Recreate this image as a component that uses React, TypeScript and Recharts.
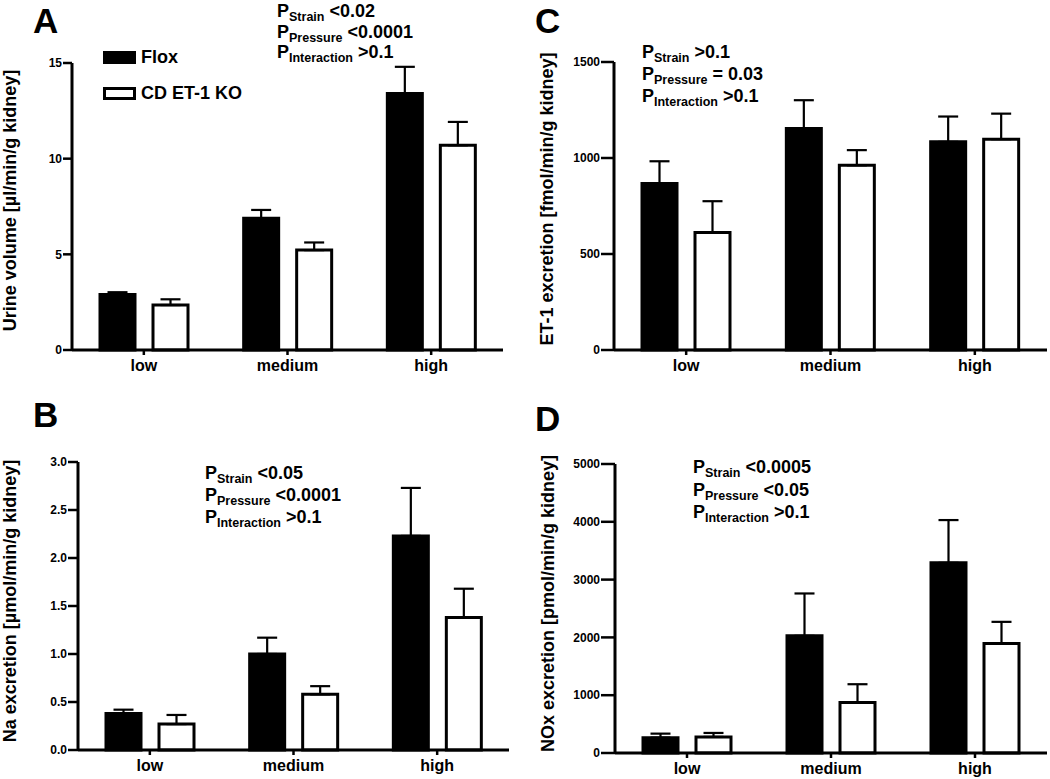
import React from 'react';
import { BarChart, Bar, XAxis, YAxis, ErrorBar, Legend } from 'recharts';

const FONT = "'Liberation Sans', Arial, sans-serif";

const categories = ['low', 'medium', 'high'];
const seriesNames = ['Flox', 'CD ET-1 KO'];
const seriesFill = ['#000000', '#ffffff'];
const statNames = ['Strain', 'Pressure', 'Interaction'];

// A: urine volume
const urineFlox = [2.9, 6.88, 13.4];
const urineFloxErr = [0.12, 0.44, 1.4];
const urineKo = [2.35, 5.22, 10.7];
const urineKoErr = [0.3, 0.4, 1.22];
const urineTicks = [0, 5, 10, 15];
const urineStats = ['<0.02', '<0.0001', '>0.1'];

// B: Na excretion
const naFlox = [0.38, 1.0, 2.23];
const naFloxErr = [0.04, 0.17, 0.5];
const naKo = [0.27, 0.58, 1.38];
const naKoErr = [0.095, 0.085, 0.3];
const naTicks = [0, 0.5, 1.0, 1.5, 2.0, 2.5, 3.0];
const naStats = ['<0.05', '<0.0001', '>0.1'];

// C: ET-1 excretion
const et1Flox = [867, 1153, 1084];
const et1FloxErr = [116, 148, 132];
const et1Ko = [612, 962, 1098];
const et1KoErr = [163, 79, 133];
const et1Ticks = [0, 500, 1000, 1500];
const et1Stats = ['>0.1', '= 0.03', '>0.1'];

// D: NOx excretion
const noxFlox = [266, 2027, 3290];
const noxFloxErr = [69, 733, 740];
const noxKo = [278, 873, 1895];
const noxKoErr = [69, 317, 374];
const noxTicks = [0, 1000, 2000, 3000, 4000, 5000];
const noxStats = ['<0.0005', '<0.05', '>0.1'];

// upper-only error bars: [below, above]
const buildRows = (flox: number[], floxErr: number[], ko: number[], koErr: number[]) =>
  categories.map((cat, i) => ({
    cat,
    flox: flox[i],
    floxErr: [0, floxErr[i]],
    ko: ko[i],
    koErr: [0, koErr[i]],
  }));

const renderLegend = (props: any) => {
  const payload = [...(props.payload || [])].sort(
    (a: any, b: any) => seriesNames.indexOf(a.value) - seriesNames.indexOf(b.value)
  );
  return (
    <div style={{ fontFamily: FONT }}>
      {payload.map((entry: any) => (
        <div key={entry.value} style={{ display: 'flex', alignItems: 'center', height: 36, lineHeight: 1 }}>
          <span
            style={{
              display: 'inline-block',
              width: 33,
              height: 13,
              boxSizing: 'border-box',
              border: '3px solid #000',
              background: seriesFill[seriesNames.indexOf(entry.value)],
              marginRight: 5,
            }}
          />
          <span style={{ fontSize: 18, fontWeight: 'bold', color: '#000' }}>{entry.value}</span>
        </div>
      ))}
    </div>
  );
};

interface PanelProps {
  left: number;
  top: number;
  height: number;
  margin: { top: number; right: number; bottom: number; left: number };
  yWidth: number;
  yTickSize: number;
  xHeight: number;
  data: any[];
  domain: [number, number];
  ticks: number[];
  decimals: number;
  yLabel: string;
  labelOffset: number;
  labelDy: number;
  legend?: boolean;
}

const Panel: React.FC<PanelProps> = ({
  left, top, height, margin, yWidth, yTickSize, xHeight, data, domain, ticks, decimals, yLabel, labelOffset, labelDy, legend,
}) => (
  <div style={{ position: 'absolute', left, top }}>
    <BarChart width={525} height={height} data={data} margin={margin} barSize={35} barGap={18}>
      <XAxis
        dataKey="cat"
        interval={0}
        height={xHeight}
        tickSize={5}
        tickMargin={5}
        axisLine={{ stroke: '#000', strokeWidth: 3 }}
        tickLine={{ stroke: '#000', strokeWidth: 2.5 }}
        tick={{ fill: '#000', fontSize: 16, fontWeight: 'bold', fontFamily: FONT }}
      />
      <YAxis
        width={yWidth}
        domain={domain}
        ticks={ticks}
        interval={0}
        tickSize={yTickSize}
        tickMargin={1}
        tickFormatter={(v: number) => v.toFixed(decimals)}
        axisLine={{ stroke: '#000', strokeWidth: 3 }}
        tickLine={{ stroke: '#000', strokeWidth: 2.5 }}
        tick={{ fill: '#000', fontSize: 12, fontWeight: 'bold', fontFamily: FONT }}
        label={{
          value: yLabel,
          angle: -90,
          position: 'insideLeft',
          offset: labelOffset,
          dy: labelDy,
          style: { textAnchor: 'middle', fill: '#000', fontSize: 18, fontWeight: 'bold', fontFamily: FONT },
        }}
      />
      <Bar dataKey="flox" name={seriesNames[0]} fill={seriesFill[0]} stroke="#000" strokeWidth={3} isAnimationActive={false}>
        <ErrorBar dataKey="floxErr" direction="y" width={10} stroke="#000" strokeWidth={2.2} isAnimationActive={false} />
      </Bar>
      <Bar dataKey="ko" name={seriesNames[1]} fill={seriesFill[1]} stroke="#000" strokeWidth={3} isAnimationActive={false}>
        <ErrorBar dataKey="koErr" direction="y" width={10} stroke="#000" strokeWidth={2.2} isAnimationActive={false} />
      </Bar>
      {legend && (
        <Legend
          layout="vertical"
          align="center"
          verticalAlign="middle"
          itemSorter="dataKey"
          content={renderLegend}
          wrapperStyle={{ left: 103, top: 39, width: 220, height: 'auto' }}
        />
      )}
    </BarChart>
  </div>
);

const StatBlock = ({ x, y, gap, values }: { x: number; y: number; gap: number; values: string[] }) => (
  <g>
    {statNames.map((n, i) => (
      <text key={n} x={x} y={y + i * gap} fontSize={18} fontWeight="bold" fontFamily={FONT} fill="#000">
        P
        <tspan fontSize={12.5} dy={4}>{n}</tspan>
        <tspan dy={-4}>{' ' + values[i]}</tspan>
      </text>
    ))}
  </g>
);

const letterStyle = { fontSize: 35, fontWeight: 'bold' as const, fontFamily: FONT, fill: '#000' };

export default function App() {
  return (
    <div style={{ position: 'absolute', left: 0, top: 0, width: 1050, height: 779, background: '#fff', fontFamily: FONT }}>
      <Panel
        left={0}
        top={0}
        height={390}
        margin={{ top: 63, right: 22, bottom: 10, left: 0 }}
        yWidth={72}
        yTickSize={9}
        xHeight={30}
        data={buildRows(urineFlox, urineFloxErr, urineKo, urineKoErr)}
        domain={[0, 15]}
        ticks={urineTicks}
        decimals={0}
        yLabel="Urine volume [µl/min/g kidney]"
        labelOffset={10}
        labelDy={-6}
        legend
      />
      <Panel
        left={525}
        top={0}
        height={390}
        margin={{ top: 62, right: 3, bottom: 10, left: 0 }}
        yWidth={89}
        yTickSize={13}
        xHeight={30}
        data={buildRows(et1Flox, et1FloxErr, et1Ko, et1KoErr)}
        domain={[0, 1500]}
        ticks={et1Ticks}
        decimals={0}
        yLabel="ET-1 excretion [fmol/min/g kidney]"
        labelOffset={22}
        labelDy={-7}
      />
      <Panel
        left={0}
        top={390}
        height={389}
        margin={{ top: 72, right: 16, bottom: 4, left: 0 }}
        yWidth={78}
        yTickSize={10}
        xHeight={25}
        data={buildRows(naFlox, naFloxErr, naKo, naKoErr)}
        domain={[0, 3]}
        ticks={naTicks}
        decimals={1}
        yLabel="Na excretion [µmol/min/g kidney]"
        labelOffset={10}
        labelDy={-5}
      />
      <Panel
        left={525}
        top={390}
        height={389}
        margin={{ top: 74, right: 3, bottom: 4, left: 0 }}
        yWidth={90}
        yTickSize={14}
        xHeight={22}
        data={buildRows(noxFlox, noxFloxErr, noxKo, noxKoErr)}
        domain={[0, 5000]}
        ticks={noxTicks}
        decimals={0}
        yLabel="NOx excretion [pmol/min/g kidney]"
        labelOffset={23}
        labelDy={-5}
      />
      <svg width={1050} height={779} style={{ position: 'absolute', left: 0, top: 0, pointerEvents: 'none' }}>
        <text x={33} y={33} {...letterStyle}>A</text>
        <text x={535} y={33} {...letterStyle}>C</text>
        <text x={33} y={427} {...letterStyle}>B</text>
        <text x={535} y={431} {...letterStyle}>D</text>
        <StatBlock x={277} y={17} gap={20.5} values={urineStats} />
        <StatBlock x={642} y={58} gap={22} values={et1Stats} />
        <StatBlock x={205} y={479} gap={22} values={naStats} />
        <StatBlock x={693} y={473} gap={22.5} values={noxStats} />
      </svg>
    </div>
  );
}
